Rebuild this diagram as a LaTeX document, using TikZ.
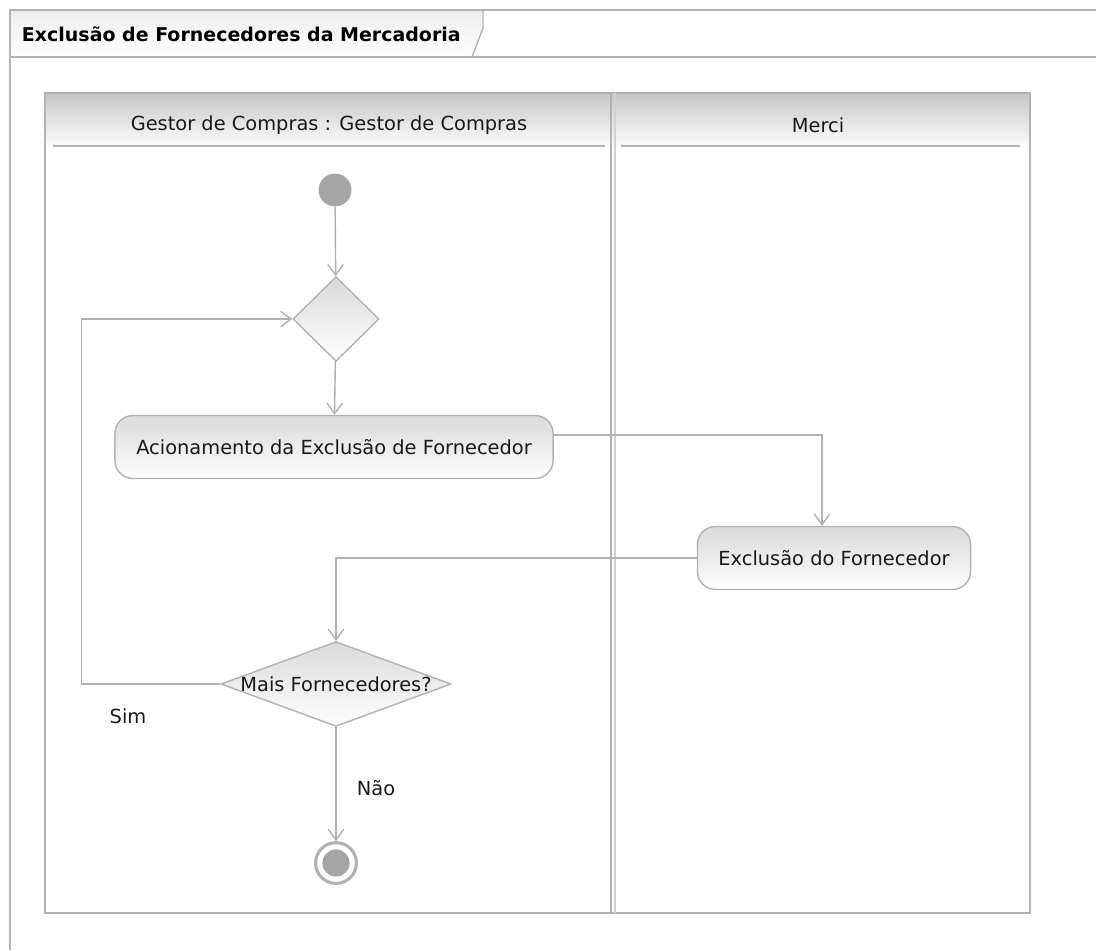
\documentclass[tikz,border=0pt]{standalone}
\usepackage{fontspec}
\setmainfont{DejaVu Sans}
\usetikzlibrary{arrows.meta,positioning,calc,shapes.geometric}
\definecolor{umlline}{RGB}{178,178,178}
\definecolor{umlfill}{RGB}{218,218,218}
\definecolor{umldot}{RGB}{165,165,165}
\definecolor{umltext}{RGB}{25,25,25}

\begin{document}
\begin{tikzpicture}[x=0.025cm,y=-0.025cm,>={Straight Barb[length=7.5pt,width=11pt]},
  txt/.style={font=\fontsize{13.8}{16}\selectfont,text=umltext},
  action/.style={txt,draw=umlline,line width=1pt,rounded corners=0.45cm,top color=umlfill,bottom color=white!97!umlfill,inner sep=0pt},
  decision/.style={diamond,draw=umlline,line width=1pt,top color=umlfill,bottom color=white!97!umlfill,inner sep=0pt},
  flow/.style={->,draw=umlline,line width=1pt}]
\useasboundingbox (0,0) rectangle (1096,950);
\fill[white] (0,0) rectangle (1096,950);
% frame and title tab
\shade[top color=gray!14,bottom color=white] (10,10) -- (483,10) -- (483,28) -- (472,57) -- (10,57) -- cycle;
\draw[umlline,line width=1.5pt] (10,950) -- (10,10) -- (1096,10);
\draw[umlline,line width=1pt] (483,10) -- (483,28) -- (472,57);
\draw[umlline,line width=1.5pt] (10,57) -- (1096,57);
\node[txt,font=\fontsize{13.5}{16}\selectfont\bfseries,anchor=west,text=black] (title) at (17,34) {Exclusão de Fornecedores da Mercadoria};
% pool and lanes
\shade[top color=gray!45,bottom color=gray!3] (45,93) rectangle (1030,145);
\draw[umlline,line width=1.5pt] (45,93) rectangle (1030,913);
\draw[umlline,line width=1.5pt] (611,93) -- (611,913);
\draw[umlline!60,line width=1pt] (615,93) -- (615,913);
\draw[umlline,line width=1pt] (53,146) -- (605,146) (621,146) -- (1020,146);
\node[txt] (lane1) at (329,125) {Gestor de Compras : Gestor de Compras};
\node[txt] (lane2) at (818,125) {Merci};
% activity nodes
\node[circle,fill=umldot,minimum size=0.82cm,inner sep=0pt] (start) at (335,190) {};
\node[decision,minimum width=2.15cm,minimum height=2.12cm] (d1) at (336,319) {};
\node[action,minimum width=10.95cm,minimum height=1.575cm] (a1) at (334,447) {Acionamento da Exclusão de Fornecedor};
\node[action,minimum width=6.825cm,minimum height=1.575cm] (a2) at (834,558) {Exclusão do Fornecedor};
\node[decision,minimum width=5.75cm,minimum height=2.12cm,label={[txt]center:Mais Fornecedores?}] (d2) at (336,684) {};
\node[circle,draw=umlline,line width=2.2pt,minimum size=1.02cm,inner sep=0pt] (stop) at (336,863) {};
\node[circle,fill=umldot,minimum size=0.68cm,inner sep=0pt] (stopdot) at (stop) {};
% flows
\draw[flow] (start) -- (d1);
\draw[flow] (d1) -- (a1);
\draw[flow] ([yshift=0.3cm]a1.east) -| ([xshift=-0.3cm]a2.north);
\draw[flow] (a2.west) -| (d2.north);
\draw[flow] (d2.west) -- ++(-139,0) |- (d1.west);
\draw[flow] (d2) -- (stop);
\node[txt] (sim) at (128,716) {Sim};
\node[txt] (nao) at (376,788) {Não};
\end{tikzpicture}
\end{document}
